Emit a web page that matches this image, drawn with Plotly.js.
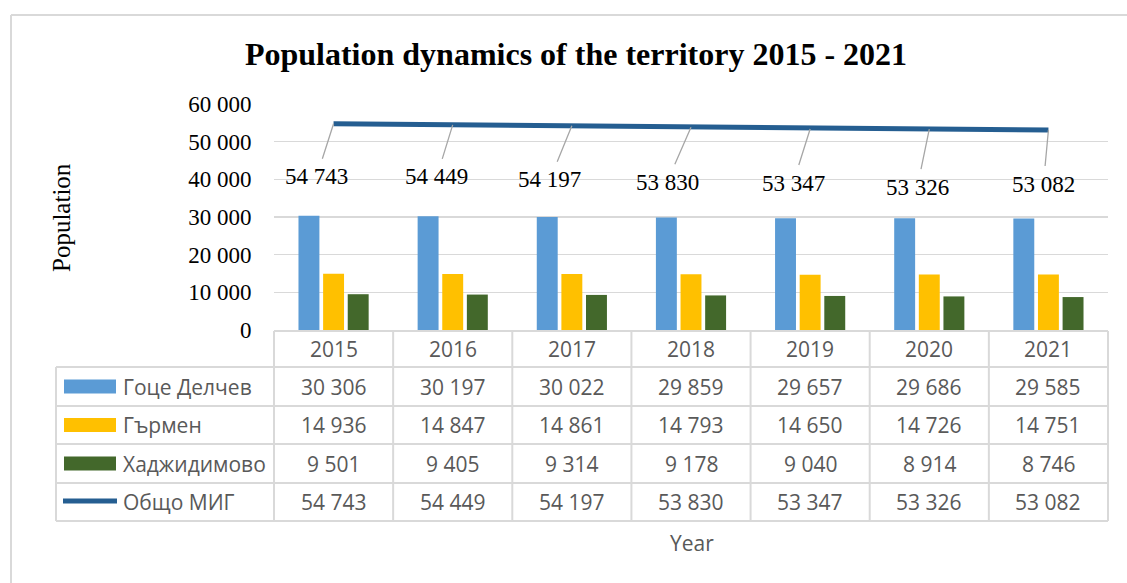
<!DOCTYPE html>
<html>
<head>
<meta charset="utf-8">
<script src="https://cdn.plot.ly/plotly-3.0.1.min.js"></script>
<style>html,body{margin:0;padding:0;background:#fff;}#chart{width:1127px;height:583px;}</style>
</head>
<body>
<div id="chart"></div>
<script>
// ---- data ----
const years = ['2015', '2016', '2017', '2018', '2019', '2020', '2021'];
const seriesNames = ['Гоце Делчев', 'Гърмен', 'Хаджидимово', 'Общо МИГ'];
const goceDelchev = [30306, 30197, 30022, 29859, 29657, 29686, 29585];
const garmen = [14936, 14847, 14861, 14793, 14650, 14726, 14751];
const hadzhidimovo = [9501, 9405, 9314, 9178, 9040, 8914, 8746];
const obshtoMIG = [54743, 54449, 54197, 53830, 53347, 53326, 53082];
const yTicks = [0, 10000, 20000, 30000, 40000, 50000, 60000];

// ---- styling / layout constants ----
const W = 1127, H = 583;
const L = 274, R = 1108, T = 104, B = 330;
const colors = ['#5B9BD5', '#FFC000', '#43682B', '#255E91'];
const serif = 'Liberation Serif, Times New Roman, serif';
const sans = 'Open Sans, Noto Sans, sans-serif';
const grid = '#d9d9d9';
// label offsets in pixels (ax, ay) for total labels
const labelShiftX = [-17, -16, -22, -24, -17, -12, -5];
const labelShiftY = [53, 52, 54, 55, 54, 58, 54];

const px = v => (v - L) / (R - L);
const py = v => (B - v) / (B - T);
const fmt = n => String(n).replace(/\B(?=(\d{3})+(?!\d))/g, ' ');

const traces = [
  {type: 'bar', name: seriesNames[0], x: years, y: goceDelchev, marker: {color: colors[0], line: {width: 0}}, hoverinfo: 'none'},
  {type: 'bar', name: seriesNames[1], x: years, y: garmen, marker: {color: colors[1], line: {width: 0}}, hoverinfo: 'none'},
  {type: 'bar', name: seriesNames[2], x: years, y: hadzhidimovo, marker: {color: colors[2], line: {width: 0}}, hoverinfo: 'none'},
  {type: 'scatter', mode: 'lines', name: seriesNames[3], x: years, y: obshtoMIG, line: {color: colors[3], width: 5}, hoverinfo: 'none'}
];

const shapes = [];
const annotations = [];
const lineStyle = {color: grid, width: 2};
function hline(y, x0, x1) { shapes.push({type: 'line', xref: 'paper', yref: 'paper', x0: px(x0), x1: px(x1), y0: py(y), y1: py(y), line: lineStyle}); }
function vline(x, y0, y1) { shapes.push({type: 'line', xref: 'paper', yref: 'paper', x0: px(x), x1: px(x), y0: py(y0), y1: py(y1), line: lineStyle}); }

// outer chart frame
shapes.push({type: 'line', xref: 'paper', yref: 'paper', x0: px(11), x1: px(W + 5), y0: py(15), y1: py(15), line: {color: grid, width: 2}});
shapes.push({type: 'line', xref: 'paper', yref: 'paper', x0: px(11), x1: px(11), y0: py(15), y1: py(H + 5), line: {color: grid, width: 2}});

// data table grid
const rowEdges = [331, 367, 406, 444, 483, 521];
const tableLeft = 56;
hline(rowEdges[0], L, R);
for (let r = 1; r < rowEdges.length; r++) hline(rowEdges[r], tableLeft, R);
vline(tableLeft, rowEdges[1], rowEdges[5]);
for (let c = 0; c <= years.length; c++) {
  vline(L + c * (R - L) / years.length, rowEdges[0], rowEdges[5]);
}

const rowCenter = r => (rowEdges[r] + rowEdges[r + 1]) / 2;
const cellFont = {family: sans, size: 21, color: '#595959'};

// header row: years (x given as category index)
years.forEach((yr, i) => {
  annotations.push({xref: 'x', yref: 'paper', x: i, y: py(rowCenter(0)), text: yr, showarrow: false, font: cellFont, xanchor: 'center', yanchor: 'middle'});
});

// body rows
const rows = [goceDelchev, garmen, hadzhidimovo, obshtoMIG];
rows.forEach((vals, r) => {
  const yc = rowCenter(r + 1);
  vals.forEach((v, i) => {
    annotations.push({xref: 'x', yref: 'paper', x: i, y: py(yc), text: fmt(v), showarrow: false, font: cellFont, xanchor: 'center', yanchor: 'middle'});
  });
  annotations.push({xref: 'paper', yref: 'paper', x: px(121), y: py(yc), text: seriesNames[r], showarrow: false, font: cellFont, xanchor: 'left', yanchor: 'middle'});
  if (r < 3) {
    shapes.push({type: 'rect', xref: 'paper', yref: 'paper', x0: px(64), x1: px(116), y0: py(yc - 7), y1: py(yc + 7), fillcolor: colors[r], line: {width: 0}});
  } else {
    shapes.push({type: 'line', xref: 'paper', yref: 'paper', x0: px(63), x1: px(117), y0: py(yc - 1), y1: py(yc - 1), line: {color: colors[3], width: 5}});
  }
});

// total data labels with leader lines
obshtoMIG.forEach((v, i) => {
  annotations.push({
    xref: 'x', yref: 'y', x: i, y: v, text: fmt(v),
    showarrow: true, arrowhead: 0, arrowwidth: 1.3, arrowcolor: '#a6a6a6',
    ax: labelShiftX[i], ay: labelShiftY[i], borderpad: 5, standoff: 0,
    font: {family: serif, size: 23, color: '#000'}
  });
});

// axis titles
annotations.push({xref: 'paper', yref: 'paper', x: px(61), y: py(217), text: 'Population', textangle: -90, showarrow: false, font: {family: serif, size: 25, color: '#000'}, xanchor: 'center', yanchor: 'middle'});
annotations.push({xref: 'paper', yref: 'paper', x: px(692), y: py(543), text: 'Year', showarrow: false, font: {family: sans, size: 21, color: '#595959'}, xanchor: 'center', yanchor: 'middle'});

const layout = {
  width: W, height: H,
  margin: {l: L, r: W - R, t: T, b: H - B, pad: 0},
  paper_bgcolor: '#fff', plot_bgcolor: '#fff',
  separators: ', ',
  showlegend: false,
  barmode: 'group', bargap: 0.38, bargroupgap: 0.15,
  title: {text: '<b>Population dynamics of the territory 2015 - 2021</b>', font: {family: serif, size: 32, color: '#000'}, xref: 'container', yref: 'container', x: 576 / W, y: 1 - 54 / H, xanchor: 'center', yanchor: 'middle'},
  xaxis: {type: 'category', categoryarray: years, range: [-0.5, years.length - 0.5], autorange: false, showticklabels: false, showgrid: false, zeroline: false, showline: false, ticks: '', fixedrange: true},
  yaxis: {range: [0, 60000], autorange: false, tickvals: yTicks, tickformat: ',d', showgrid: true, gridcolor: grid, gridwidth: 1.3, zeroline: false, showline: false, ticks: 'outside', ticklen: 17, tickcolor: 'rgba(0,0,0,0)', tickfont: {family: serif, size: 23, color: '#000'}, fixedrange: true},
  shapes: shapes,
  annotations: annotations
};

Plotly.newPlot('chart', traces, layout, {displayModeBar: false, staticPlot: true});
</script>
</body>
</html>
